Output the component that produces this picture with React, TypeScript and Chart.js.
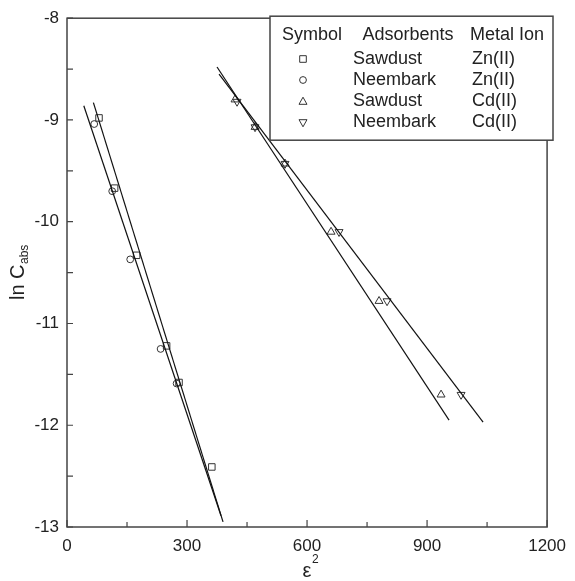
import React, { useEffect, useRef } from 'react';
import { Chart, registerables } from 'chart.js';
Chart.register(...registerables);

const xTicks = [0, 300, 600, 900, 1200];
const yTicks = [-13, -12, -11, -10, -9, -8];
const xMinor = [150, 450, 750, 1050];
const yMinor = [-12.5, -11.5, -10.5, -9.5, -8.5];

// Zn(II) on sawdust (squares)
const znSawX = [80, 119, 174, 249, 280, 362];
const znSawY = [-8.98, -9.67, -10.33, -11.22, -11.58, -12.41];
// Zn(II) on neembark (circles)
const znNeemX = [68, 113, 158, 234, 274];
const znNeemY = [-9.04, -9.7, -10.37, -11.25, -11.59];
// Cd(II) on sawdust (up triangles)
const cdSawX = [420, 470, 545, 660, 780, 935];
const cdSawY = [-8.8, -9.07, -9.43, -10.1, -10.78, -11.7];
// Cd(II) on neembark (down triangles)
const cdNeemX = [425, 470, 545, 680, 800, 985];
const cdNeemY = [-8.82, -9.07, -9.43, -10.1, -10.78, -11.7];

// fitted lines (end points)
const fitZnSawX = [66, 390];
const fitZnSawY = [-8.83, -12.95];
const fitZnNeemX = [42, 385];
const fitZnNeemY = [-8.86, -12.89];
const fitCdSawX = [375, 955];
const fitCdSawY = [-8.48, -11.95];
const fitCdNeemX = [380, 1040];
const fitCdNeemY = [-8.55, -11.97];

const legendHeaders = ['Symbol', 'Adsorbents', 'Metal Ion'];
const legendAdsorbents = ['Sawdust', 'Neembark', 'Sawdust', 'Neembark'];
const legendIons = ['Zn(II)', 'Zn(II)', 'Cd(II)', 'Cd(II)'];
const legendSymbols = ['square', 'circle', 'up', 'down'];

const FONT = "'Liberation Sans', Arial, Helvetica, sans-serif";
const TEXT = '#222';
const MARK = '#333';

const pts = (xs: number[], ys: number[]) => xs.map((x, i) => ({ x, y: ys[i] }));

function drawSymbol(ctx: CanvasRenderingContext2D, kind: string, x: number, y: number) {
  ctx.beginPath();
  if (kind === 'square') {
    ctx.rect(x - 3.3, y - 3.3, 6.6, 6.6);
  } else if (kind === 'circle') {
    ctx.arc(x, y, 3.4, 0, Math.PI * 2);
  } else if (kind === 'up') {
    ctx.moveTo(x, y - 4.3);
    ctx.lineTo(x + 4, y + 2.8);
    ctx.lineTo(x - 4, y + 2.8);
    ctx.closePath();
  } else {
    ctx.moveTo(x, y + 4.3);
    ctx.lineTo(x + 4, y - 2.8);
    ctx.lineTo(x - 4, y - 2.8);
    ctx.closePath();
  }
  ctx.stroke();
}

const decorPlugin = {
  id: 'decor',
  afterDraw(chart: any) {
    const { ctx, chartArea: a, scales } = chart;
    const xs = scales.x;
    const ys = scales.y;
    ctx.save();
    // frame
    ctx.strokeStyle = '#444';
    ctx.lineWidth = 1.5;
    ctx.strokeRect(a.left, a.top, a.right - a.left, a.bottom - a.top);
    // ticks
    ctx.lineWidth = 1.2;
    ctx.beginPath();
    xTicks.forEach((v) => {
      const px = xs.getPixelForValue(v);
      ctx.moveTo(px, a.bottom);
      ctx.lineTo(px, a.bottom - 7);
    });
    xMinor.forEach((v) => {
      const px = xs.getPixelForValue(v);
      ctx.moveTo(px, a.bottom);
      ctx.lineTo(px, a.bottom - 5);
    });
    [...yTicks, ...yMinor].forEach((v) => {
      const py = ys.getPixelForValue(v);
      ctx.moveTo(a.left, py);
      ctx.lineTo(a.left + 6, py);
    });
    ctx.stroke();

    // y title
    ctx.fillStyle = TEXT;
    ctx.save();
    ctx.translate(17, (a.top + a.bottom) / 2);
    ctx.rotate(-Math.PI / 2);
    ctx.textBaseline = 'alphabetic';
    ctx.textAlign = 'left';
    ctx.font = `20px ${FONT}`;
    const main = 'ln C';
    const w1 = ctx.measureText(main).width;
    ctx.font = `12px ${FONT}`;
    const sub = 'abs';
    const w2 = ctx.measureText(sub).width;
    const start = -(w1 + w2) / 2;
    ctx.font = `20px ${FONT}`;
    ctx.fillText(main, start, 7);
    ctx.font = `12px ${FONT}`;
    ctx.fillText(sub, start + w1 + 0.5, 11);
    ctx.restore();

    // x title
    ctx.textAlign = 'left';
    ctx.textBaseline = 'alphabetic';
    ctx.font = `20px ${FONT}`;
    const eps = 'ε';
    const we = ctx.measureText(eps).width;
    const ex = (a.left + a.right) / 2 - we / 2;
    ctx.fillText(eps, ex, 577);
    ctx.font = `12px ${FONT}`;
    ctx.fillText('2', ex + we + 0.5, 563);

    // legend box
    const lx = 270, ly = a.top - 2, lw = 283, lh = 124;
    ctx.fillStyle = '#fff';
    ctx.fillRect(lx, ly, lw, lh);
    ctx.strokeStyle = '#444';
    ctx.lineWidth = 1.5;
    ctx.strokeRect(lx, ly, lw, lh);
    ctx.fillStyle = TEXT;
    ctx.font = `18px ${FONT}`;
    ctx.textBaseline = 'middle';
    const rows = [59, 80, 101.5, 122.5];
    ctx.textAlign = 'center';
    ctx.fillText(legendHeaders[0], 312, 35);
    ctx.fillText(legendHeaders[1], 408, 35);
    ctx.fillText(legendHeaders[2], 507, 35);
    ctx.textAlign = 'left';
    rows.forEach((ry, i) => {
      ctx.fillText(legendAdsorbents[i], 353, ry);
      ctx.fillText(legendIons[i], 472, ry);
    });
    ctx.strokeStyle = MARK;
    ctx.lineWidth = 1;
    rows.forEach((ry, i) => drawSymbol(ctx, legendSymbols[i], 303, ry));
    ctx.restore();
  },
};

export default function App() {
  const ref = useRef<HTMLCanvasElement>(null);
  useEffect(() => {
    const canvas = ref.current!;
    const lineDs = (xs: number[], ys: number[]) => ({
      data: pts(xs, ys),
      showLine: true,
      pointRadius: 0,
      borderColor: '#111',
      borderWidth: 1.2,
      backgroundColor: 'rgba(0,0,0,0)',
    });
    const markDs = (xs: number[], ys: number[], style: string, r: number, rot = 0) => ({
      data: pts(xs, ys),
      showLine: false,
      pointStyle: style,
      pointRadius: r,
      pointRotation: rot,
      pointBorderColor: MARK,
      pointBorderWidth: 1,
      pointBackgroundColor: 'rgba(0,0,0,0)',
      borderColor: MARK,
      backgroundColor: 'rgba(0,0,0,0)',
    });
    const chart = new Chart(canvas, {
      type: 'scatter',
      data: {
        datasets: [
          lineDs(fitZnSawX, fitZnSawY),
          lineDs(fitZnNeemX, fitZnNeemY),
          lineDs(fitCdSawX, fitCdSawY),
          lineDs(fitCdNeemX, fitCdNeemY),
          markDs(znSawX, znSawY, 'rect', 4.6),
          markDs(znNeemX, znNeemY, 'circle', 3.4),
          markDs(cdSawX, cdSawY, 'triangle', 4.6),
          markDs(cdNeemX, cdNeemY, 'triangle', 4.6, 180),
        ] as any,
      },
      options: {
        responsive: false,
        animation: false,
        devicePixelRatio: 1,
        layout: { padding: { top: 17, right: 23, left: 0, bottom: 0 } },
        plugins: { legend: { display: false }, tooltip: { enabled: false } },
        scales: {
          x: {
            type: 'linear',
            min: 0,
            max: 1200,
            afterBuildTicks: (s: any) => {
              s.ticks = xTicks.map((v) => ({ value: v }));
            },
            afterFit: (s: any) => {
              s.height = 54;
            },
            grid: { display: false, drawTicks: false },
            border: { display: false },
            ticks: {
              font: { family: FONT, size: 17 },
              color: TEXT,
              padding: 9,
              maxRotation: 0,
              autoSkip: false,
              callback: (v: any) => String(v),
            },
          },
          y: {
            type: 'linear',
            min: -13,
            max: -8,
            afterBuildTicks: (s: any) => {
              s.ticks = yTicks.map((v) => ({ value: v }));
            },
            afterFit: (s: any) => {
              s.width = 67;
            },
            grid: { display: false, drawTicks: false },
            border: { display: false },
            ticks: {
              font: { family: FONT, size: 17 },
              color: TEXT,
              padding: 8,
              autoSkip: false,
              callback: (v: any) => String(v),
            },
          },
        },
      } as any,
      plugins: [decorPlugin],
    });
    return () => chart.destroy();
  }, []);
  return (
    <div style={{ position: 'fixed', left: 0, top: 0, width: 575, height: 581, background: '#fff' }}>
      <canvas ref={ref} width={575} height={581} style={{ display: 'block', width: 575, height: 581 }} />
    </div>
  );
}
